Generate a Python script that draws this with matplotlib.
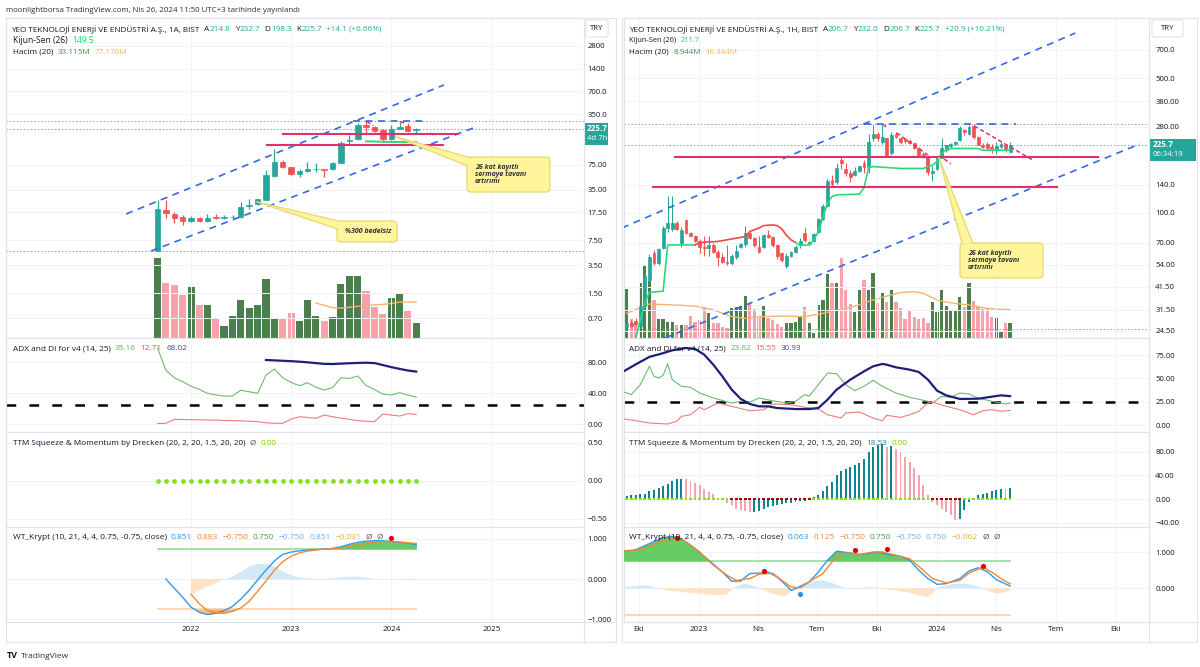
import numpy as np
import pandas as pd
import matplotlib
matplotlib.use("Agg")
import matplotlib.pyplot as plt
import matplotlib.dates as mdates
from matplotlib.patches import Rectangle, FancyBboxPatch, Polygon
from matplotlib.lines import Line2D
from matplotlib.transforms import IdentityTransform
from matplotlib.ticker import NullLocator

plt.rcParams["font.family"] = ["Open Sans", "DejaVu Sans"]
plt.rcParams["lines.scale_dashes"] = False

# ====================== DATA ======================
# ---------- left chart : monthly bars (1A) ----------
m_start = "2021-09-01"
m_open = [5.45, 18.9, 16.8, 15.4, 13.5, 14.9, 13.6, 15.1, 14.6, 15.1, 15.1, 21.0, 22.4, 25.8, 53.4, 81.4,
          70.0, 56.7, 61.9, 65.8, 65.8, 65.1, 79.0, 153, 164, 252, 234, 214, 164, 223, 245, 214.8]
m_high = [25.5, 25.5, 17.5, 16.2, 15.7, 15.4, 16.8, 16.6, 16.2, 16.0, 24.3, 26.0, 26.6, 63.8, 120, 87.0,
          71.0, 65.0, 81.4, 79.0, 66.5, 81.4, 156, 186, 270, 287, 245, 221, 252, 279, 265, 232.7]
m_low = [5.4, 14.6, 12.6, 11.9, 13.1, 13.2, 13.1, 14.2, 14.2, 14.6, 14.6, 19.3, 22.0, 25.5, 52.3, 67.2,
         55.5, 51.3, 60.7, 60.7, 52.3, 63.8, 78.0, 137, 159, 195, 204, 151, 159, 221, 206, 198.3]
m_close = [19.3, 17.1, 14.6, 13.5, 14.9, 13.5, 14.9, 14.6, 15.1, 15.4, 20.9, 21.7, 26.0, 55.0, 81.4, 71.0,
           56.7, 61.9, 65.8, 66.5, 63.8, 78.0, 146, 157, 252, 235, 212, 164, 221, 239, 210, 225.7]
m_vol = [170, 118, 113, 92, 108, 70, 70, 43, 27, 47, 82, 64, 71, 125, 43, 40,
         54, 36, 82, 47, 36, 46, 115, 132, 132, 101, 66, 51, 85, 95, 58, 33.115]
m_vma_i = list(range(19, 32))
m_vma = [75, 70, 65, 64, 66, 68, 69, 71, 72, 74, 77, 77, 77.176]
m_kij_i = list(range(25, 32))
m_kij = [153, 152, 151, 150, 150, 149.5, 149.5]
m_adx_i = list(range(13, 32))
m_adx = [83, 82.5, 82, 81.5, 80.8, 80, 79, 78, 77.8, 78.3, 78.8, 79.2, 79.5, 79.0, 76.5, 73.8, 71.5, 69.5, 68.02]
m_dip = [98, 70, 60, 55, 49, 45, 40, 38, 36.5, 36.5, 44, 42, 40, 63.6, 71.4, 60, 54, 49.8, 53.7, 48, 44.2,
         47.3, 60, 59.3, 62.3, 50, 45, 39, 37.8, 40.8, 37.8, 35.16]
m_dim = [1, 1.3, 6.5, 6.2, 6, 5.8, 5.6, 5.4, 5, 4.8, 4.5, 4, 3.4, 2, 1.3, 1.3, 6.8, 9.8, 8.8, 7.7, 12,
         9.8, 8, 6.5, 4.7, 4, 3.4, 13.3, 12, 10.7, 13.7, 12.71]
m_ttm = [0.0] * 32
m_wt1_i = list(range(1, 32))
m_wt1 = [0.0, -0.23, -0.45, -0.7, -0.83, -0.88, -0.85, -0.79, -0.68, -0.5, -0.28, -0.02, 0.22, 0.45, 0.61,
         0.67, 0.7, 0.72, 0.73, 0.74, 0.76, 0.8, 0.86, 0.91, 0.94, 0.95, 0.95, 0.93, 0.91, 0.89, 0.851]
m_wt2_i = list(range(4, 32))
m_wt2 = [-0.38, -0.62, -0.78, -0.84, -0.85, -0.8, -0.72, -0.55, -0.3, -0.05, 0.22, 0.43, 0.57, 0.65,
         0.69, 0.72, 0.74, 0.75, 0.77, 0.8, 0.84, 0.88, 0.92, 0.93, 0.93, 0.92, 0.9, 0.883]
m_hist_i = list(range(4, 32))
m_hist = [-0.38, -0.29, -0.19, -0.1, 0, 0.08, 0.2, 0.33, 0.39, 0.39, 0.32, 0.2, 0.1, 0.05, 0.03,
          0.02, 0.02, 0.03, 0.05, 0.07, 0.07, 0.04, 0.01, -0.01, -0.01, -0.02, -0.02, -0.031]
m_dot_i = [28]
m_dot = [1.02]

# drawings on left chart (date, price)
l_chan_up = [("2021-05-09", 16.7), ("2024-07-11", 853)]
l_chan_dn = [("2021-08-08", 5.4), ("2024-10-26", 230)]
l_top = [("2023-08-16", 284.5), ("2024-04-27", 284.5)]
l_pink1 = [("2022-12-03", 193), ("2024-09-01", 193)]
l_pink2 = [("2022-10-05", 135.8), ("2024-07-08", 135.8)]
l_pdash = [[("2023-10-04", 280), ("2023-10-28", 246)],
           [("2024-02-02", 280), ("2024-02-26", 261)],
           [("2024-05-21", 197), ("2024-06-01", 186)]]

# ---------- right chart : weekly bars (1H) ----------
w_start = "2022-09-05"
w_open = [25.5, 27, 27.5, 26, 33, 45, 62, 55, 66, 84,
          83, 89, 70, 92, 79, 76, 72, 67, 66, 68,
          63, 59, 56, 55, 59, 67, 69, 79, 74, 67,
          67, 77, 75, 68, 62, 53, 60, 63, 68, 79,
          69, 72, 80, 93, 109, 148, 144, 188, 170, 162,
          158, 165, 181, 174, 245, 258, 234, 244, 204, 258,
          246, 242, 236, 230, 217, 202, 197, 162, 170, 193,
          212, 222, 228, 238, 268, 258, 283, 248, 226, 229,
          221, 215, 220, 225, 206.7]
w_high = [27.5, 28, 28.5, 33.5, 49, 61, 64, 66, 86, 122,
          122, 91, 85, 93, 80, 77, 73, 76, 76, 70,
          64, 62, 68, 61, 68, 70, 86, 80, 75, 75.7,
          78, 82, 76, 69, 63, 62, 63.5, 68, 74, 85,
          72, 79, 94, 111, 150, 158, 181, 196, 181, 167,
          174, 176, 188, 258, 286, 263, 286, 246, 263, 262,
          248, 245, 243, 231, 220, 206, 199, 175, 195, 244,
          226, 230, 236, 281, 272, 285, 289, 250, 230, 232,
          228, 232, 233, 227, 232]
w_low = [25, 25.5, 26, 25.5, 32, 44, 54, 54, 65, 80,
         81, 82, 67, 78, 75, 71, 62, 60, 60, 62,
         53, 55, 54, 54, 58, 66, 67, 73, 67, 62,
         66, 74, 67, 58, 56, 52, 59, 62, 66, 71,
         68, 71, 79, 92, 107, 136, 142, 170, 155, 145,
         155, 163, 161, 161, 236, 235, 229, 196, 200, 245,
         228, 230, 227, 215, 200, 193, 158, 147, 168, 192,
         208, 218, 225, 236, 255, 255, 241, 226, 218, 215,
         204, 202, 216, 206, 206.7]
w_close = [27, 26, 26.5, 33, 47, 59, 55, 65, 84, 89,
           89, 83, 82, 79, 76, 72, 67, 66, 68, 63,
           59, 56, 55, 59.6, 63.5, 69, 79, 74, 68, 62.5,
           77, 75, 68, 60, 57, 59.6, 63, 67, 72, 72.8,
           71, 78, 93, 109, 147, 141, 172, 181, 162, 154,
           165, 175, 174, 234, 258, 245, 248, 200, 253, 248,
           232, 236, 231, 217, 201, 196, 164, 166, 193, 216,
           225, 229, 234, 276, 262, 280, 248, 226, 221, 217,
           215, 222, 227, 211, 225.7]
w_vol = [28, 10.8, 9.5, 31.7, 41.8, 33, 21.9, 10.8, 10.8, 9.5,
         9.5, 7.6, 7.6, 7.6, 12.7, 9.5, 10.5, 17.7, 14.6, 8.6,
         8.6, 6.7, 5.7, 17.1, 17.7, 18.6, 24.3, 20, 16.5, 12.7,
         18.6, 11.4, 10.5, 8.2, 6.7, 8.6, 8.6, 9.5, 12.7, 17.7,
         8.9, 3.2, 19.2, 21.9, 36.7, 31.7, 31.4, 45.8, 27.9, 19.6,
         15.2, 27.9, 33.3, 27.9, 37.6, 20, 26, 21, 27.9, 20.9,
         17.1, 10.8, 15.8, 12, 10.8, 11.4, 8.9, 20.5, 15.2, 27.6,
         18.4, 15.8, 15.8, 23.4, 18, 31.4, 21.1, 18, 16.5, 16.5,
         12.4, 11.4, 3.8, 8.6, 8.944]
w_vma_i = [1, 6, 12, 16, 20, 24, 27, 30, 35, 40, 44, 48, 51, 55, 58, 61, 64, 66, 69, 72, 76, 80, 83, 85]
w_vma = [14.3, 19.6, 19, 18.4, 16.2, 12.4, 11.4, 12.4, 12.7, 12.4, 14.3, 16.5, 18.4, 21.9, 24.1, 26.2,
         26.6, 25.7, 21.9, 20.3, 19, 17.1, 16.5, 16.444]
w_kij_g1_i = [3, 4, 5, 6, 9, 10, 16]
w_kij_g1 = [22.4, 28, 34, 38.8, 39.3, 68.3, 68.3]
w_kij_r_i = [16, 17, 21, 23, 27, 28, 30, 31, 33, 34, 35, 36, 37, 38]
w_kij_r = [68.3, 70.3, 71.2, 72.6, 75.5, 80.3, 83.6, 86, 86.7, 86, 82.6, 76.7, 72.6, 70.3]
w_kij_g2_i = [38, 39, 41, 42, 43, 44, 45, 46, 47, 52, 53, 54, 55, 61, 66, 67, 68, 69, 70, 71, 72, 78, 79, 85]
w_kij_g2 = [70.3, 68, 68.3, 72.6, 80.3, 95, 112.5, 121.7, 124.2, 125.2, 135, 172, 174, 170.2, 170.2, 174,
            177, 185, 204, 213, 216, 216, 211.7, 211.7]
w_adx_i = [0, 3, 6, 9, 11, 14, 16, 18, 20, 22, 24, 26, 28, 30, 32, 34, 38, 41, 43, 45, 47, 50, 53, 55, 57,
           58, 60, 63, 65, 67, 69, 71, 74, 78, 79, 83, 85]
w_adx = [56.5, 65, 73, 77, 80, 82.5, 81.5, 75.4, 64.6, 52, 38, 28, 22.5, 20, 20, 18.2, 17.1, 17.1, 18.2,
         27.1, 37.9, 48.6, 57.5, 62.9, 65.4, 64.6, 61.8, 59.3, 56.8, 48.6, 36.8, 31.8, 27.9, 28.2, 28.9,
         31.8, 30.93]
w_dip_i = [0, 2, 4, 6, 7, 8, 9, 10, 11, 13, 15, 17, 20, 24, 26, 28, 30, 33, 36, 38, 40, 41, 43, 45, 47,
           49, 51, 53, 55, 57, 60, 63, 67, 68, 70, 72, 74, 76, 78, 81, 84, 85]
w_dip = [36.1, 32.5, 43.2, 62.9, 52.2, 50.4, 53.3, 65.7, 48.6, 41.5, 40.4, 34.3, 28.9, 23.6, 25.4, 24.6,
         28.9, 26, 23.6, 25.4, 32.5, 31, 43.2, 55.7, 55, 43.2, 36.8, 41.5, 47.9, 41.5, 34.3, 29.7, 25.4,
         23.6, 30.8, 29.7, 34.3, 33.2, 28.9, 25.4, 22.5, 23.62]
w_dim_i = [0, 3, 6, 10, 12, 13, 15, 17, 18, 21, 24, 28, 31, 33, 37, 40, 43, 45, 48, 49, 52, 55, 57, 58,
           61, 63, 65, 67, 68, 71, 74, 77, 79, 81, 83, 85]
w_dim = [6.8, 4.6, 2.1, 1.1, 4, 9.3, 11, 19, 16.4, 23.6, 20, 15.3, 16.4, 22.5, 21.8, 19, 17.1, 11, 7.5,
         12.9, 13.9, 7.5, 4.6, 10.4, 8.2, 11, 14.7, 23.6, 24.6, 20, 16.4, 11, 15.3, 16.4, 14.7, 15.55]
w_ttm = [5, 6, 7.3, 7.9, 9, 13, 14.6, 18.6, 22, 25.9,
         30.4, 33.2, 34.3, 33.2, 29.8, 27.6, 23, 17.5, 11.8, 9,
         1.7, -1, -6.2, -10.7, -16.3, -18.6, -20.8, -22, -22, -19.7,
         -16.3, -13.5, -11.8, -9.6, -8.4, -7.3, -6.2, -4.5, -3.9, -2.8,
         -1.1, 2.8, 7.3, 13, 21.4, 28.7, 40, 47.3, 51.2, 54,
         58, 60.8, 67, 79.4, 87.8, 91.8, 93, 88, 90, 85,
         79.4, 71, 62.5, 52.4, 40, 23, 7.3, -5, -10.7, -17.5,
         -22, -26.5, -36, -33.2, -19, -5, 1.7, 6.2, 8.4, 10.7,
         13, 14.6, 17.5, 17.5, 18.53]
w_ttm_col = ("TTTTTTTTTT" "TTTPPPPPPP" "PPPPPPPPTT" "TTTTTTTTTT" "TTTTTTTTTT"
             "TTTTTTTPTP" "PPPPPPPPPP" "PPPTTTTTTT" "TTTPT")
w_sqz = ("GGGGGGGGGG" "GGGGGGGGGG" "GGGRRRRRRR" "RRRRRRRRRR" "RGGGGGGGGG"
         "GGGGGGGGGG" "GGGGGGGRRR" "RRRRGGGGGG" "GGGGG")
w_wt1_i = [0, 3, 6, 9, 11, 13, 16, 19, 22, 24, 26, 27, 28, 30, 32, 34, 36, 37, 38, 41, 43, 45, 47, 49, 52,
           54, 56, 58, 61, 63, 65, 67, 69, 71, 74, 76, 78, 80, 82, 85]
w_wt1 = [1.03, 1.07, 1.24, 1.41, 1.44, 1.38, 1.1, 0.78, 0.45, 0.2, 0.2, 0.31, 0.41, 0.42, 0.45, 0.31, 0.08,
         -0.06, -0.01, 0.18, 0.45, 0.78, 1.03, 1.0, 0.94, 0.96, 1.01, 0.94, 0.89, 0.78, 0.5, 0.27, 0.11,
         0.13, 0.27, 0.48, 0.57, 0.46, 0.24, 0.063]
w_wt2_i = [0, 3, 6, 9, 12, 14, 17, 20, 23, 25, 28, 30, 33, 35, 37, 39, 41, 44, 46, 48, 50, 52, 55, 57, 60,
           63, 65, 68, 71, 74, 76, 79, 81, 83, 85]
w_wt2 = [1.03, 1.05, 1.15, 1.33, 1.41, 1.29, 1.01, 0.64, 0.36, 0.22, 0.27, 0.39, 0.42, 0.22, 0.04, 0.01,
         0.18, 0.41, 0.73, 0.96, 0.98, 0.94, 1.01, 1.01, 0.92, 0.82, 0.61, 0.27, 0.15, 0.22, 0.42, 0.59,
         0.45, 0.27, 0.125]
w_hist_i = [0, 2, 4, 6, 8, 10, 13, 16, 19, 21, 23, 24, 25, 27, 29, 30, 31, 33, 35, 36, 37, 38, 40, 42, 44,
            46, 48, 49, 51, 52, 54, 56, 57, 60, 63, 65, 67, 68, 69, 71, 73, 76, 78, 79, 80, 82, 84, 85]
w_hist = [0.02, 0.05, 0.08, 0.07, 0.0, -0.06, -0.1, -0.14, -0.17, -0.19, -0.17, -0.05, 0.05, 0.13, 0.05,
          0.0, -0.05, -0.15, -0.22, -0.2, -0.08, 0.0, 0.1, 0.2, 0.22, 0.15, 0.05, 0.0, -0.03, 0.0, 0.03,
          0.01, -0.02, -0.06, -0.12, -0.2, -0.24, -0.15, 0.02, 0.08, 0.13, 0.12, 0.05, 0.0, -0.06, -0.15,
          -0.1, -0.062]
w_red_i = [12, 31, 51, 58, 79]
w_red = [1.41, 0.47, 1.07, 1.09, 0.63]
w_blue_i = [39]
w_blue = [-0.15]

# drawings on right chart (date, price)
r_chan_up = [("2022-09-05", 83.7), ("2024-07-31", 857)]
r_chan_dn = [("2022-11-10", 22.5), ("2024-11-07", 228)]
r_top = [("2023-09-11", 288), ("2024-05-01", 288)]
r_pink1 = [("2022-11-25", 196), ("2024-09-04", 196)]
r_pink2 = [("2022-10-22", 136), ("2024-07-03", 136)]
r_pdash = [[("2023-10-10", 288), ("2023-10-18", 274)],
           [("2023-10-31", 260), ("2023-12-18", 200)],
           [("2024-01-12", 190.6), ("2024-01-22", 179.7)],
           [("2024-02-27", 282.6), ("2024-05-27", 188)]]

# axis ticks
l_price_ticks = [0.7, 1.5, 3.5, 7.5, 17.5, 35, 75, 350, 700, 1400, 2800]
l_price_labels = ["0.70", "1.50", "3.50", "7.50", "17.50", "35.00", "75.00", "350.0", "700.0", "1400", "2800"]
r_price_ticks = [24.5, 31.5, 41.5, 54, 70, 100, 140, 280, 380, 500, 700]
r_price_labels = ["24.50", "31.50", "41.50", "54.00", "70.00", "100.0", "140.0", "280.00", "380.00", "500.0", "700.0"]
l_time_ticks = ["2022-01-01", "2023-01-01", "2024-01-01", "2025-01-01"]
l_time_labels = ["2022", "2023", "2024", "2025"]
r_time_ticks = ["2022-10-01", "2023-01-01", "2023-04-01", "2023-07-01", "2023-10-01", "2024-01-01",
                "2024-04-01", "2024-07-01", "2024-10-01"]
r_time_labels = ["Eki", "2023", "Nis", "Tem", "Eki", "2024", "Nis", "Tem", "Eki"]

# ====================== STYLE ======================
TXT = "#131722"
GRID = "#f0f3fa"
BORDER = "#e0e3eb"
UP, DN = "#26a69a", "#ef5350"
VUP, VDN = "#4b7f4b", "#f7a1aa"
KG, KR = "#2ad97a", "#f04848"
VMA = "#f7b46c"
BLUE = "#3568e8"
PINK = "#e0306e"
NAVY, DIP, DIM = "#1f1f7a", "#6dbb6d", "#f07c7c"
TT, TP = "#13838f", "#f5a3ac"
SQG, SQR = "#86e01e", "#a00000"
WT1C, WT2C = "#3597ec", "#f08a33"
WTG, WTGL, WTOL = "#66cc66", "#a8e0a8", "#fdd5b0"
LB, LO, OFILL = "#d3e9f8", "#fde2c6", "#f6a664"
YEL, YELE = "#fff59d", "#e5d96a"

W, H = 1200, 667
fig = plt.figure(figsize=(W / 100, H / 100), dpi=100)
fig.patch.set_facecolor("white")
R = fig.canvas.get_renderer()


def frect(x0, y0, x1, y1):
    return [x0 / W, 1 - y1 / H, (x1 - x0) / W, (y1 - y0) / H]


YS = [18.3, 338.3, 432.3, 527.3, 622.3]


def style(ax, pad):
    for s in ax.spines.values():
        s.set_color(BORDER)
        s.set_linewidth(0.8)
    ax.yaxis.tick_right()
    ax.tick_params(length=0, labelsize=5.6, colors=TXT)
    ax.tick_params(axis="y", pad=pad)
    ax.tick_params(axis="x", labelbottom=False, pad=3)
    ax.grid(True, color=GRID, lw=0.7)
    ax.set_axisbelow(True)


def build(x0, x1, pad):
    vol = fig.add_axes(frect(x0, YS[0], x1, YS[1]))
    vol.set_facecolor("white")
    for s in vol.spines.values():
        s.set_visible(False)
    pr = fig.add_axes(frect(x0, YS[0], x1, YS[1]), sharex=vol)
    pr.patch.set_alpha(0)
    pr.set_zorder(vol.get_zorder() + 1)
    style(pr, pad)
    axs = [pr]
    for k in range(1, 4):
        a = fig.add_axes(frect(x0, YS[k], x1, YS[k + 1]), sharex=vol)
        style(a, pad)
        axs.append(a)
    return vol, axs


def hide_vol(vol):
    vol.tick_params(axis="both", which="both", length=0, labelbottom=False, labelleft=False,
                    labelright=False, labeltop=False)
    vol.set_yticks([])
    vol.grid(False)


def dline(ax, pts, **kw):
    d = pd.to_datetime([p[0] for p in pts])
    ax.plot(d, [p[1] for p in pts], **kw)


def candles(ax, d, o, h, l, c, bw, lw):
    o, h, l, c = map(np.asarray, (o, h, l, c))
    col = np.where(c >= o, UP, DN)
    ax.vlines(d, l, h, colors=col, lw=lw, zorder=3)
    ax.bar(d, np.abs(c - o), bottom=np.minimum(o, c), width=bw, color=col, edgecolor=col, lw=0.5, zorder=4)


def rich(x, y, parts, target=None, fs=6.0, **kw):
    def place(f):
        xx, arts = x, []
        for s, c, g in parts:
            t = fig.text(xx / W, 1 - y / H, s, color=c, fontsize=f, ha="left", va="center", **kw)
            xx += t.get_window_extent(R).width + g
            arts.append(t)
        return xx, arts
    if target is not None:
        gaps = sum(p[2] for p in parts)
        end, arts = place(fs)
        for a in arts:
            a.remove()
        fs = fs * (target - x - gaps) / (end - x - gaps)
    place(fs)


def callout(ax, box, tip, base, text, fs=5.0):
    x0, y0, x1, y1 = box
    tp = ax.transData.transform((mdates.date2num(pd.Timestamp(tip[0])), tip[1]))
    fig.add_artist(FancyBboxPatch((x0, H - y1), x1 - x0, y1 - y0, boxstyle="round,pad=0,rounding_size=4",
                                  transform=IdentityTransform(), fc=YEL, ec=YELE, lw=0.9, zorder=20))
    b = [(bx, H - by) for bx, by in base]
    fig.add_artist(Polygon([b[0], tuple(tp), b[1]], closed=True, transform=IdentityTransform(),
                           fc=YEL, ec="none", zorder=21))
    for bb in b:
        fig.add_artist(Line2D([bb[0], tp[0]], [bb[1], tp[1]], transform=IdentityTransform(),
                              color=YELE, lw=0.9, zorder=21))
    fig.text((x0 + 8) / W, 1 - ((y0 + y1) / 2) / H, text, fontsize=fs, style="italic", fontweight="bold",
             color="#333333", ha="left", va="center", linespacing=1.05, zorder=22)


def price_axis(ax, ticks, labels, ylim):
    ax.set_yscale("log")
    ax.set_ylim(*ylim)
    ax.set_yticks(ticks)
    ax.set_yticklabels(labels)
    ax.yaxis.set_minor_locator(NullLocator())


def set_time(axs, xlim, ticks, labels):
    axs[3].set_xlim(pd.Timestamp(xlim[0]), pd.Timestamp(xlim[1]))
    axs[3].set_xticks(pd.to_datetime(ticks))
    axs[3].set_xticklabels(labels)
    axs[3].tick_params(axis="x", labelbottom=True, labelsize=5.8)


# ====================== LEFT PANEL ======================
m_dates = pd.date_range(m_start, periods=len(m_open), freq="MS")
lvol, (lp, ladx, lttm, lwt) = build(6, 583.5, 3)
set_time([lp, ladx, lttm, lwt], ("2020-02-26", "2025-12-02"), l_time_ticks, l_time_labels)
price_axis(lp, l_price_ticks, l_price_labels, (0.377, 6515))

mup = np.asarray(m_close) >= np.asarray(m_open)
lvol.bar(m_dates, m_vol, width=26, color=np.where(mup, VUP, VDN), zorder=2)
lvol.plot(m_dates[m_vma_i], m_vma, color=VMA, lw=1.0, zorder=3)
lvol.set_ylim(0, 680)
hide_vol(lvol)

lp.axhline(max(m_high), color="#9598a1", lw=0.7, ls=(0, (1, 1.5)), zorder=1)
lp.axhline(min(m_low), color="#9598a1", lw=0.7, ls=(0, (1, 1.5)), zorder=1)
lp.axhline(m_close[-1], color="#5aa9c4", lw=0.7, ls=(0, (1, 1.5)), zorder=1)
candles(lp, m_dates, m_open, m_high, m_low, m_close, 20, 0.9)
lp.plot(m_dates[m_kij_i], m_kij, color=KG, lw=1.4, zorder=5)
for pts in (l_chan_up, l_chan_dn, l_top):
    dline(lp, pts, color=BLUE, lw=1.2, dashes=(5, 4), zorder=6)
for pts in (l_pink1, l_pink2):
    dline(lp, pts, color=PINK, lw=1.5, zorder=6)
for pts in l_pdash:
    dline(lp, pts, color=PINK, lw=1.1, dashes=(3, 2), zorder=6)

# ADX
ladx.set_ylim(-10.3, 111)
ladx.set_yticks([0, 40, 80]); ladx.set_yticklabels(["0.00", "40.00", "80.00"])
ladx.axhline(25, color="black", lw=1.8, dashes=(7, 9.5), zorder=2)
ladx.plot(m_dates, m_dip, color=DIP, lw=0.8, zorder=3)
ladx.plot(m_dates, m_dim, color=DIM, lw=0.8, zorder=3)
ladx.plot(m_dates[m_adx_i], m_adx, color=NAVY, lw=1.6, zorder=4)
# TTM
lttm.set_ylim(-0.613, 0.637)
lttm.set_yticks([-0.5, 0, 0.5]); lttm.set_yticklabels(["\u22120.50", "0.00", "0.50"])
lttm.scatter(m_dates, m_ttm, s=12, color=SQG, zorder=3, linewidths=0)
# WT
lwt.set_ylim(-1.074, 1.283)
lwt.set_yticks([-1, 0, 1]); lwt.set_yticklabels(["\u22121.000", "0.000", "1.000"])
hd = m_dates[m_hist_i]
hv = np.asarray(m_hist)
lwt.fill_between(hd, 0, hv, where=hv >= 0, interpolate=True, color=LB, lw=0, zorder=2)
lwt.fill_between(hd, 0, hv, where=hv <= 0, interpolate=True, color=LO, lw=0, zorder=2)
lwt.plot([m_dates[0], m_dates[-1]], [0.75, 0.75], color=WTGL, lw=1.4, zorder=3)
lwt.plot([m_dates[0], m_dates[-1]], [-0.75, -0.75], color=WTOL, lw=1.4, zorder=3)
for ii, vv in ((m_wt1_i, m_wt1), (m_wt2_i, m_wt2)):
    d = m_dates[ii]; v = np.asarray(vv)
    lwt.fill_between(d, 0.75, v, where=v >= 0.75, interpolate=True, color=WTG, lw=0, zorder=3)
    lwt.fill_between(d, -0.75, v, where=v <= -0.75, interpolate=True, color=OFILL, lw=0, alpha=0.75, zorder=3)
lwt.plot(m_dates[m_wt1_i], m_wt1, color=WT1C, lw=1.0, zorder=4)
lwt.plot(m_dates[m_wt2_i], m_wt2, color=WT2C, lw=1.0, zorder=4)
lwt.scatter(m_dates[m_dot_i], m_dot, s=14, color="#e00000", zorder=5, linewidths=0)

# ====================== RIGHT PANEL ======================
w_dates = pd.date_range(w_start, periods=len(w_open) + 1, freq="7D")
wd = w_dates[1:]
rvol, (rp, radx, rttm, rwt) = build(624, 1149, 4.5)
set_time([rp, radx, rttm, rwt], ("2022-09-08", "2024-11-21"), r_time_ticks, r_time_labels)
price_axis(rp, r_price_ticks, r_price_labels, (22.4, 1022))

wup = np.asarray(w_close) >= np.asarray(w_open)
rvol.bar(wd, w_vol, width=5, color=np.where(wup, VUP, VDN), zorder=2)
rvol.plot(w_dates[w_vma_i], w_vma, color=VMA, lw=1.0, zorder=3)
rvol.set_ylim(0, 183)
hide_vol(rvol)

rp.axhline(max(w_high), color="#9598a1", lw=0.7, ls=(0, (1, 1.5)), zorder=1)
rp.axhline(min(w_low), color="#9598a1", lw=0.7, ls=(0, (1, 1.5)), zorder=1)
rp.axhline(w_close[-1], color="#5aa9c4", lw=0.7, ls=(0, (1, 1.5)), zorder=1)
candles(rp, wd, w_open, w_high, w_low, w_close, 4.4, 0.75)
rp.plot(w_dates[w_kij_g1_i], w_kij_g1, color=KG, lw=1.2, zorder=5)
rp.plot(w_dates[w_kij_r_i], w_kij_r, color=KR, lw=1.2, zorder=5)
rp.plot(w_dates[w_kij_g2_i], w_kij_g2, color=KG, lw=1.2, zorder=5)
for pts in (r_chan_up, r_chan_dn, r_top):
    dline(rp, pts, color=BLUE, lw=1.2, dashes=(5, 4), zorder=6)
for pts in (r_pink1, r_pink2):
    dline(rp, pts, color=PINK, lw=1.5, zorder=6)
for pts in r_pdash:
    dline(rp, pts, color=PINK, lw=1.1, dashes=(3, 2), zorder=6)

# ADX
radx.set_ylim(-7.8, 92.9)
radx.set_yticks([0, 25, 50, 75]); radx.set_yticklabels(["0.00", "25.00", "50.00", "75.00"])
radx.axhline(25, color="black", lw=1.8, dashes=(7, 9.5), zorder=2)
radx.plot(w_dates[w_dip_i], w_dip, color=DIP, lw=0.8, zorder=3)
radx.plot(w_dates[w_dim_i], w_dim, color=DIM, lw=0.8, zorder=3)
radx.plot(w_dates[w_adx_i], w_adx, color=NAVY, lw=1.6, zorder=4)
# TTM
rttm.set_ylim(-47.8, 112.7)
rttm.set_yticks([-40, 0, 40, 80]); rttm.set_yticklabels(["\u221240.00", "0.00", "40.00", "80.00"])
rttm.bar(wd, w_ttm, width=3.0, color=[TT if ch == "T" else TP for ch in w_ttm_col], zorder=2)
rttm.scatter(wd, np.zeros(len(wd)), s=4, marker="s", color=[SQG if ch == "G" else SQR for ch in w_sqz],
             zorder=3, linewidths=0)
# WT
rwt.set_ylim(-0.944, 1.694)
rwt.set_yticks([0, 1]); rwt.set_yticklabels(["0.000", "1.000"])
hd = w_dates[w_hist_i]
hv = np.asarray(w_hist)
rwt.fill_between(hd, 0, hv, where=hv >= 0, interpolate=True, color=LB, lw=0, zorder=2)
rwt.fill_between(hd, 0, hv, where=hv <= 0, interpolate=True, color=LO, lw=0, zorder=2)
rwt.plot([w_dates[0], w_dates[-1]], [0.75, 0.75], color=WTGL, lw=1.4, zorder=3)
rwt.plot([w_dates[0], w_dates[-1]], [-0.75, -0.75], color=WTOL, lw=1.4, zorder=3)
for ii, vv in ((w_wt1_i, w_wt1), (w_wt2_i, w_wt2)):
    d = w_dates[ii]; v = np.asarray(vv)
    rwt.fill_between(d, 0.75, v, where=v >= 0.75, interpolate=True, color=WTG, lw=0, zorder=3)
rwt.plot(w_dates[w_wt1_i], w_wt1, color=WT1C, lw=1.0, zorder=4)
rwt.plot(w_dates[w_wt2_i], w_wt2, color=WT2C, lw=1.0, zorder=4)
rwt.scatter(w_dates[w_red_i], w_red, s=14, color="#e00000", zorder=5, linewidths=0)
rwt.scatter(w_dates[w_blue_i], w_blue, s=14, color="#2196f3", zorder=5, linewidths=0)

# ====================== FRAMES / LABELS ======================
for (a, b) in ((5.5, 616), (622, 1197)):
    fig.add_artist(Rectangle((a / W, 1 - 642 / H), (b - a) / W, (642 - 18.3) / H, transform=fig.transFigure,
                             fill=False, ec=BORDER, lw=0.8))
for xc in (583.5, 1149):
    fig.add_artist(Line2D([xc / W, xc / W], [1 - 642 / H, 1 - 18.3 / H], transform=fig.transFigure,
                          color=BORDER, lw=0.8))
for xa, xb in ((5.5, 616), (622, 1197)):
    fig.add_artist(Line2D([xa / W, xb / W], [1 - 622.3 / H, 1 - 622.3 / H], transform=fig.transFigure,
                          color=BORDER, lw=0.8))

# TRY boxes
for x0, x1 in ((586, 608), (1152, 1183)):
    fig.add_artist(FancyBboxPatch((x0, H - 37), x1 - x0, 17, boxstyle="round,pad=0,rounding_size=2",
                                  transform=IdentityTransform(), fc="white", ec=BORDER, lw=0.8))
    fig.text((x0 + x1) / 2 / W, 1 - 28.5 / H, "TRY", fontsize=5.6, color=TXT, ha="center", va="center")

# last price labels
for ax, x0, x1, last, sub in ((lp, 583.5, 608, m_close[-1], "4d 7h"), (rp, 1149.5, 1196, w_close[-1], "06:34:19")):
    yl = H - ax.transData.transform((0, last))[1]
    fig.add_artist(Rectangle((x0, H - (yl + 16)), x1 - x0, 22, transform=IdentityTransform(), fc=UP, ec="none"))
    fig.text((x0 + 3.5) / W, 1 - yl / H, f"{last:.1f}", fontsize=5.8, color="white", fontweight="bold",
             ha="left", va="center")
    fig.text((x0 + 3.5) / W, 1 - (yl + 10) / H, sub, fontsize=5.6, color="white", ha="left", va="center")

# callouts
callout(lp, (337, 221, 397, 242), ("2022-08-30", 24.1), [(341, 221.5), (337.5, 229)], "%300 bedelsiz")
callout(lp, (467, 157, 550, 192), ("2024-01-18", 175), [(470, 157.5), (467.5, 166)],
        "26 kat kayıtlı\nsermaye tavanı\nartırımı")
callout(rp, (960, 243, 1043, 278), ("2024-01-04", 193), [(962, 243.5), (973, 243.5)],
        "26 kat kayıtlı\nsermaye tavanı\nartırımı")

# header
rich(6.5, 10, [("moonlightborsa TradingView.com, Nis 26, 2024 11:50 UTC+3 tarihinde yayınlandı", "#2a2e39", 0)],
     target=305)

TEAL = "#22ab94"
G = 4.5
rich(11, 29.3, [("YEO TEKNOLOJİ ENERJİ VE ENDÜSTRİ A.Ş., 1A, BIST", TXT, G), ("A", TXT, 0.3), ("214.8", TEAL, G),
                ("Y", TXT, 0.3), ("232.7", TEAL, G), ("D", TXT, 0.3), ("198.3", TEAL, G), ("K", TXT, 0.3),
                ("225.7", TEAL, G), ("+14.1 (+6.66%)", TEAL, 0)], target=384.6)
rich(12.6, 40.7, [("Kijun-Sen (26)", TXT, G), ("149.5", "#1fcf6f", 0)], target=93.8)
rich(12.6, 52.3, [("Hacim (20)", TXT, G), ("33.115M", "#4b8b4b", G), ("77.176M", "#f7b46c", 0)], target=127.4)
rich(629, 29.3, [("YEO TEKNOLOJİ ENERJİ VE ENDÜSTRİ A.Ş., 1H, BIST", TXT, G), ("A", TXT, 0.3), ("206.7", TEAL, G),
                 ("Y", TXT, 0.3), ("232.0", TEAL, G), ("D", TXT, 0.3), ("206.7", TEAL, G), ("K", TXT, 0.3),
                 ("225.7", TEAL, G), ("+20.9 (+10.21%)", TEAL, 0)], target=1006.4)
rich(629, 40.7, [("Kijun-Sen (26)", TXT, G), ("211.7", "#1fcf6f", 0)], target=700.3)
rich(629, 52.3, [("Hacim (20)", TXT, G), ("8.944M", "#4b8b4b", G), ("16.444M", "#f7b46c", 0)], target=738.5)

rich(12.6, 349, [("ADX and DI for v4 (14, 25)", TXT, G), ("35.16", "#5cb85c", G), ("12.71", DN, G),
                 ("68.02", "#4040a8", 0)], target=186.4)
rich(629, 349, [("ADX and DI for v4 (14, 25)", TXT, G), ("23.62", "#5cb85c", G), ("15.55", DN, G),
                ("30.93", "#4040a8", 0)], target=802)
rich(12.6, 443.3, [("TTM Squeeze & Momentum by Drecken (20, 2, 20, 1.5, 20, 20)", TXT, G), ("Ø", "#555555", G),
                   ("0.00", "#76d700", 0)], target=277.5)
rich(629, 443.3, [("TTM Squeeze & Momentum by Drecken (20, 2, 20, 1.5, 20, 20)", TXT, G), ("18.53", "#1a8a9a", G),
                  ("0.00", "#76d700", 0)], target=908)
wt_cols = ["#2196f3", "#f0883a", "#f0883a", "#43a047", "#64b5f6", "#64b5f6", "#f5a742", "#555555", "#555555"]
l_wt_vals = ["0.851", "0.883", "\u22120.750", "0.750", "\u22120.750", "0.851", "\u22120.031", "Ø", "Ø"]
r_wt_vals = ["0.063", "0.125", "\u22120.750", "0.750", "\u22120.750", "0.750", "\u22120.062", "Ø", "Ø"]
rich(12.6, 537.7, [("WT_Krypt (10, 21, 4, 4, 0.75, -0.75, close)", TXT, G)] +
     [(v, c, G) for v, c in zip(l_wt_vals, wt_cols)], target=390)
rich(629, 537.7, [("WT_Krypt (10, 21, 4, 4, 0.75, -0.75, close)", TXT, G)] +
     [(v, c, G) for v, c in zip(r_wt_vals, wt_cols)], target=1005)

# footer
fig.text(7 / W, 1 - 656 / H, "TV", fontsize=6.5, fontweight="bold", color=TXT, ha="left", va="center")
fig.text(21 / W, 1 - 656 / H, "TradingView", fontsize=6, color="#2a2e39", ha="left", va="center")

fig.savefig("out.png", dpi=100, facecolor="white")
